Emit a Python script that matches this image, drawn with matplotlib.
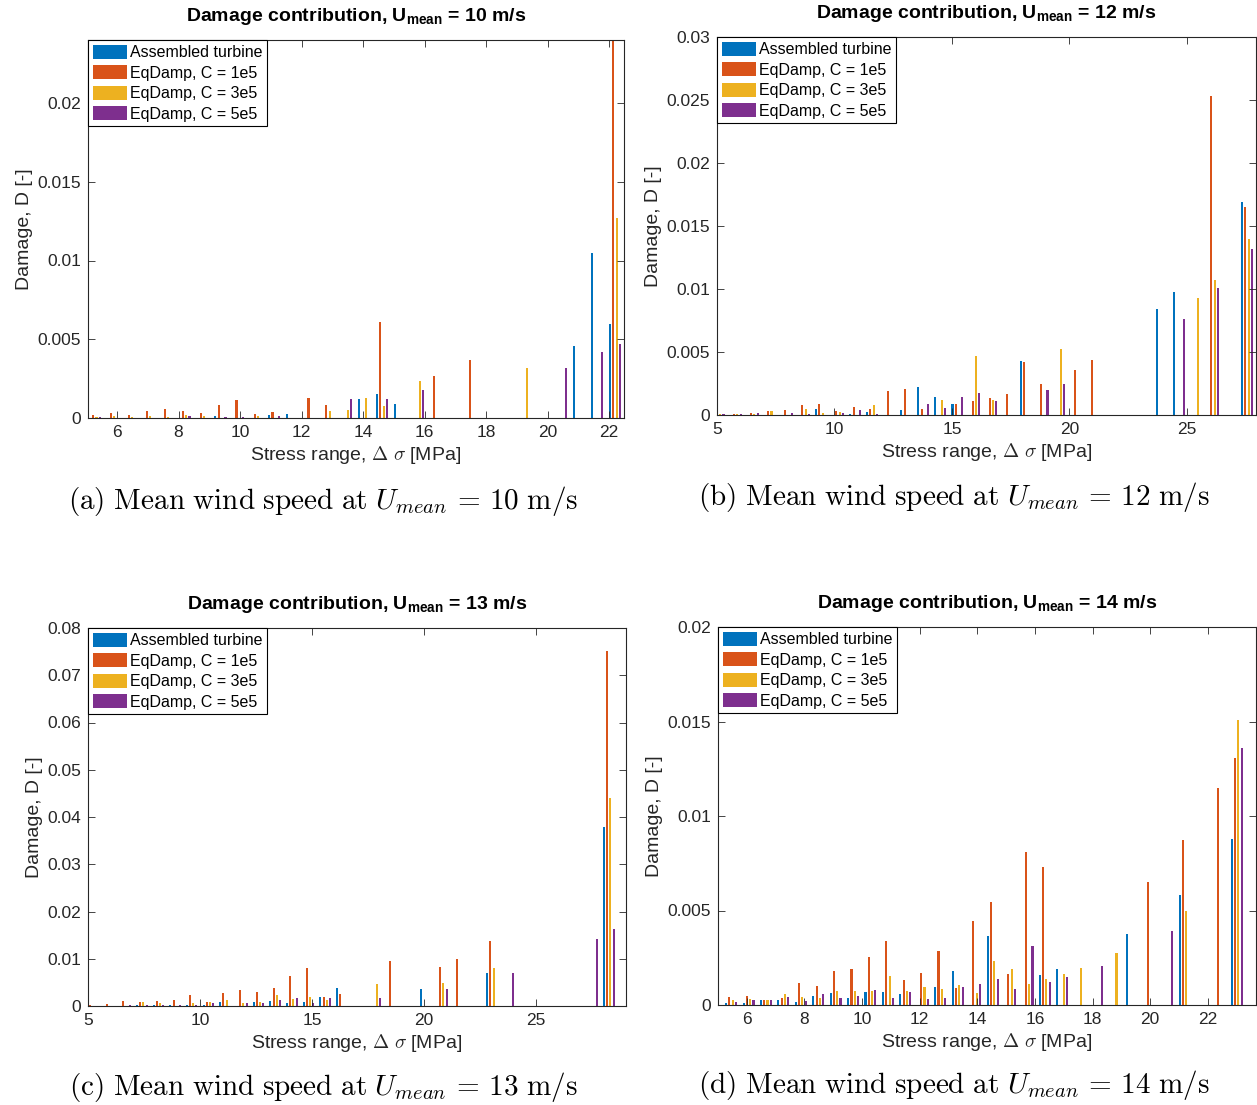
import numpy as np
import matplotlib
matplotlib.use('Agg')
import matplotlib.pyplot as plt
from matplotlib.ticker import FuncFormatter

plt.rcParams['font.family'] = ['Liberation Sans', 'DejaVu Sans']
plt.rcParams['mathtext.fontset'] = 'custom'
plt.rcParams['mathtext.rm'] = 'Liberation Sans'
plt.rcParams['mathtext.it'] = 'Liberation Sans:italic'
plt.rcParams['mathtext.bf'] = 'Liberation Sans:bold'
plt.rcParams['mathtext.sf'] = 'Liberation Sans'

series_labels = ['Assembled turbine', 'EqDamp, C = 1e5', 'EqDamp, C = 3e5', 'EqDamp, C = 5e5']
colors = ['#0072BD', '#D95319', '#EDB120', '#7E2F8E']

# ---- U_mean = 10 m/s ----
bins_10 = [5.28, 5.86, 6.44, 7.03, 7.61, 8.19, 8.78, 9.36, 9.94, 10.53,
           11.11, 11.69, 12.28, 12.86, 13.44, 14.03, 14.61, 15.19, 15.78, 16.36,
           16.94, 17.53, 18.11, 18.69, 19.28, 19.86, 20.44, 21.03, 21.61, 22.19]
asm_10 = [0, 0, 0, 0.00003, 0.00003, 0, 0, 0.00015, 0, 0,
          0.00017, 0.00023, 0, 0, 0, 0.00123, 0.0015, 0.0009, 0, 0,
          0, 0, 0, 0, 0, 0, 0, 0.0046, 0.0105, 0.006]
c1e5_10 = [0.00017, 0.0003, 0.0002, 0.00042, 0.0006, 0.00042, 0.00034, 0.00085, 0.00114, 0.00028,
           0.00036, 0, 0.0013, 0.0008, 0, 0, 0.0061, 0, 0, 0.00265,
           0, 0.0037, 0, 0, 0, 0, 0, 0, 0, 0.026]
c3e5_10 = [0.00008, 0.0001, 0.00005, 0.0001, 0.00004, 0.00016, 0.0001, 0, 0, 0.00012,
           0, 0, 0, 0.00042, 0.0005, 0.0013, 0.00078, 0, 0.00235, 0,
           0, 0, 0, 0, 0.0032, 0, 0, 0, 0, 0.0127]
c5e5_10 = [0.00004, 0, 0.00003, 0, 0, 0.0001, 0, 0.00004, 0.00005, 0,
           0.00013, 0, 0, 0, 0.0012, 0, 0.0012, 0, 0.00176, 0,
           0, 0, 0, 0, 0, 0, 0.0032, 0, 0.0042, 0.0047]

# ---- U_mean = 12 m/s ----
bins_12 = [5.07, 5.80, 6.52, 7.25, 7.97, 8.70, 9.43, 10.15, 10.88, 11.60,
           12.33, 13.05, 13.78, 14.50, 15.23, 15.95, 16.68, 17.41, 18.13, 18.86,
           19.58, 20.31, 21.03, 21.76, 22.48, 23.21, 23.94, 24.66, 25.39, 26.11,
           26.84, 27.56]
asm_12 = [0, 0.00003, 0.00003, 0.00003, 0.00003, 0.00003, 0.00048, 0, 0.0001, 0.0002,
          0, 0.0004, 0.00222, 0.0014, 0.0009, 0, 0, 0, 0.00426, 0,
          0, 0, 0, 0, 0, 0, 0.0084, 0.0098, 0, 0,
          0, 0.0169]
c1e5_12 = [0.00008, 0.0001, 0.00019, 0.0003, 0.00037, 0.0008, 0.00085, 0.00034, 0.00066, 0.00045,
           0.00188, 0.0021, 0.0005, 0, 0.00085, 0.0011, 0.00135, 0.0017, 0.00418, 0.0025,
           0, 0.0036, 0.00434, 0, 0, 0, 0, 0, 0, 0.0253,
           0, 0.0165]
c3e5_12 = [0.00006, 0.0001, 0.0001, 0.0003, 0, 0.00045, 0.00012, 0.00026, 0, 0.00077,
           0, 0, 0, 0.00116, 0, 0.0047, 0.00116, 0, 0, 0,
           0.0052, 0, 0, 0, 0, 0, 0, 0, 0.0093, 0.0107,
           0, 0.014]
c5e5_12 = [0.00004, 0.00005, 0.00013, 0, 0.00019, 0.0001, 0, 0.00015, 0.00037, 0.0001,
           0, 0, 0.00085, 0.00053, 0.0014, 0.00177, 0.0011, 0, 0, 0.002,
           0.00243, 0, 0, 0, 0, 0, 0, 0.0076, 0, 0.0101,
           0, 0.0132]

# ---- U_mean = 13 m/s ----
bins_13 = [5.17, 5.91, 6.65, 7.40, 8.14, 8.89, 9.63, 10.38, 11.12, 11.87,
           12.61, 13.36, 14.10, 14.85, 15.59, 16.33, 17.08, 17.82, 18.57, 19.31,
           20.06, 20.80, 21.55, 22.29, 23.04, 23.78, 24.53, 25.27, 26.01, 26.76,
           27.50, 28.25]
asm_13 = [0, 0, 0, 0.0002, 0.0002, 0.0002, 0.0002, 0.0002, 0.00078, 0,
          0.00078, 0.00106, 0.0006, 0.00085, 0.002, 0.0039, 0, 0, 0, 0,
          0.0035, 0, 0, 0, 0.0069, 0, 0, 0, 0, 0,
          0, 0.0379]
c1e5_13 = [0.0002, 0.0004, 0.00106, 0.00085, 0.00106, 0.00127, 0.00226, 0.00085, 0.00275, 0.0033,
           0.003, 0.0039, 0.0063, 0.008, 0.002, 0.0025, 0, 0, 0.0096, 0,
           0, 0.0083, 0.0099, 0, 0.01376, 0, 0, 0, 0, 0,
           0, 0.0751]
c3e5_13 = [0.0001, 0.0001, 0.0001, 0.00085, 0.0006, 0, 0.0006, 0.00085, 0.00127, 0.0006,
           0.00085, 0.0023, 0.0015, 0.0019, 0.00127, 0, 0, 0.0046, 0, 0,
           0, 0.0049, 0, 0, 0.008, 0, 0, 0, 0, 0,
           0, 0.0441]
c5e5_13 = [0.0001, 0.0001, 0.0002, 0.0002, 0.0002, 0.0002, 0.0002, 0.0006, 0, 0.0006,
           0.0006, 0.00127, 0.0016, 0.0007, 0.00176, 0, 0, 0.0016, 0, 0,
           0, 0.0036, 0, 0, 0, 0.0069, 0, 0, 0, 0,
           0.0141, 0.0162]

# ---- U_mean = 14 m/s ----
bins_14 = [5.45, 6.06, 6.66, 7.27, 7.87, 8.48, 9.08, 9.69, 10.29, 10.90,
           11.50, 12.11, 12.71, 13.32, 13.92, 14.53, 15.13, 15.74, 16.34, 16.95,
           17.55, 18.16, 18.77, 19.37, 19.98, 20.58, 21.19, 21.79, 22.40, 23.00]
asm_14 = [0.00009, 0.0001, 0.00026, 0.00026, 0.00014, 0.00048, 0.00065, 0.00035, 0.00069, 0.00067,
          0.00058, 0, 0.00097, 0.0018, 0, 0.00365, 0, 0, 0.0016, 0.00192,
          0, 0, 0, 0.00374, 0, 0, 0.00584, 0, 0, 0.00878]
c1e5_14 = [0.00042, 0.00048, 0.00026, 0.00039, 0.00118, 0.001, 0.0018, 0.00189, 0.00254, 0.00337,
           0.00132, 0.00169, 0.00286, 0.0009, 0.00446, 0.00545, 0.00164, 0.00808, 0.00728, 0,
           0, 0, 0, 0, 0.0065, 0, 0.00871, 0, 0.01146, 0.01309]
c3e5_14 = [0.00026, 0.0003, 0.00026, 0.00058, 0.00044, 0.00035, 0.00072, 0.00076, 0.00074, 0.00155,
           0.00074, 0.00097, 0.00083, 0.00104, 0.00063, 0.00234, 0.00189, 0.0011, 0.00138, 0.00164,
           0.00196, 0, 0.00273, 0, 0, 0, 0.00499, 0, 0, 0.01508]
c5e5_14 = [0.00014, 0.00026, 0.00026, 0.00044, 0.00023, 0.00058, 0.00035, 0.00049, 0.00079, 0.00035,
           0.00069, 0.0003, 0.00037, 0.00093, 0.0011, 0.00139, 0.00083, 0.00312, 0.00123, 0.0015,
           0, 0.00208, 0, 0, 0, 0.00392, 0, 0, 0, 0.01362]

panels = [
    dict(u=10, tag='a', bins=bins_10, vals=[asm_10, c1e5_10, c3e5_10, c5e5_10],
         rect=[88, 40, 624, 418], xlim=(5.057, 22.48), xticks=range(6, 23, 2),
         ylim=(0, 0.024), yticks=np.arange(0, 0.0201, 0.005), cap=(323, 501)),
    dict(u=12, tag='b', bins=bins_12, vals=[asm_12, c1e5_12, c3e5_12, c5e5_12],
         rect=[717, 37, 1256, 415], xlim=(5, 27.94), xticks=range(5, 26, 5),
         ylim=(0, 0.03), yticks=np.arange(0, 0.0301, 0.005), cap=(954, 497)),
    dict(u=13, tag='c', bins=bins_13, vals=[asm_13, c1e5_13, c3e5_13, c5e5_13],
         rect=[88, 628, 626, 1006], xlim=(5, 29.02), xticks=range(5, 26, 5),
         ylim=(0, 0.08), yticks=np.arange(0, 0.0801, 0.01), cap=(323, 1087)),
    dict(u=14, tag='d', bins=bins_14, vals=[asm_14, c1e5_14, c3e5_14, c5e5_14],
         rect=[718, 627, 1256, 1005], xlim=(5, 23.67), xticks=range(6, 23, 2),
         ylim=(0, 0.02), yticks=np.arange(0, 0.0201, 0.005), cap=(954, 1085)),
]

W, H = 1257, 1105
fig = plt.figure(figsize=(W / 100, H / 100), dpi=100)
fmt = FuncFormatter(lambda v, p: f'{v:g}')
dark = '#262626'

for p in panels:
    x0, y0, x1, y1 = p['rect']
    ax = fig.add_axes([x0 / W, 1 - y1 / H, (x1 - x0) / W, (y1 - y0) / H])
    bins = np.array(p['bins'])
    step = np.mean(np.diff(bins))
    for i, (vals, col, lab) in enumerate(zip(p['vals'], colors, series_labels)):
        ax.bar(bins + (i - 1.5) * 0.19 * step, vals, width=0.12 * step,
               color=col, linewidth=0, label=lab)
    ax.set_xlim(*p['xlim'])
    ax.set_ylim(*p['ylim'])
    ax.set_xticks(list(p['xticks']))
    ax.set_yticks(p['yticks'])
    ax.yaxis.set_major_formatter(fmt)
    ax.tick_params(direction='in', top=True, right=True, length=5, width=0.6,
                   labelsize=12.5, colors=dark, pad=5)
    for s in ax.spines.values():
        s.set_color(dark)
        s.set_linewidth(0.8)
    ax.set_title(r'Damage contribution, U$_{\mathbf{mean}}$ = %d m/s' % p['u'],
                 fontsize=14, fontweight='bold', pad=14)
    ax.set_xlabel(r'Stress range, $\Delta$ $\sigma$ [MPa]', fontsize=14,
                  math_fontfamily='cm', color=dark, labelpad=3)
    ax.set_ylabel('Damage, D [-]', fontsize=14, color=dark, labelpad=3)
    leg = ax.legend(loc='upper left', borderaxespad=0, fancybox=False, edgecolor='k',
                    framealpha=1, fontsize=11.5, handlelength=2.15, handleheight=1.0,
                    handletextpad=0.15, labelspacing=0.3, borderpad=0.3)
    leg.get_frame().set_linewidth(0.8)
    cx, cy = p['cap']
    fig.text(cx / W, 1 - cy / H,
             r'$\mathrm{(%s)\ Mean\ wind\ speed\ at}\ U_{mean}\,=\,%d\ \mathrm{m/s}$' % (p['tag'], p['u']),
             math_fontfamily='cm', fontsize=21, ha='center', va='center')

fig.savefig('out.png', dpi=100)
